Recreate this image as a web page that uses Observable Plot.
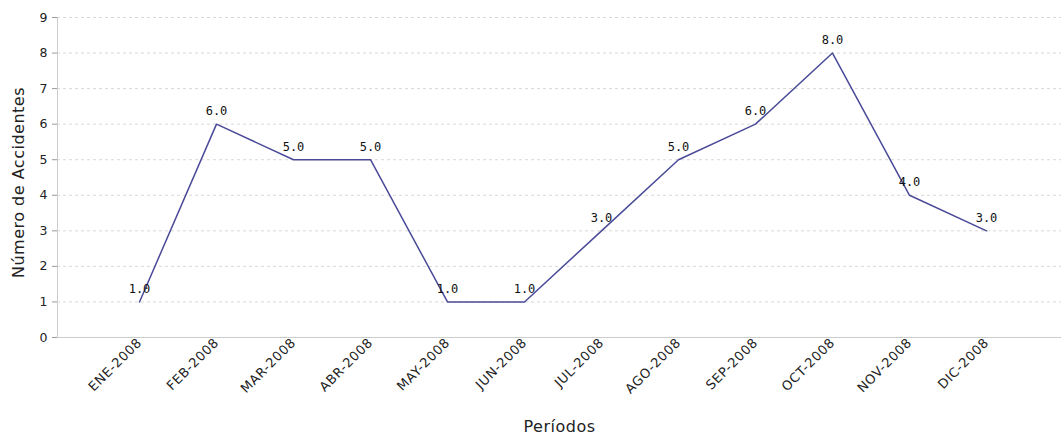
<!DOCTYPE html>
<html>
<head>
<meta charset="utf-8">
<script src="https://cdn.jsdelivr.net/npm/d3@7"></script>
<script src="https://cdn.jsdelivr.net/npm/@observablehq/plot@0.6"></script>
<style>
  html, body { margin: 0; padding: 0; background: #fff; }
  #chart svg { display: block; }
  #chart g[aria-label="x-axis tick label"] text { letter-spacing: 0.6px; }
  #chart .axis-title text { letter-spacing: 0.5px; }
</style>
</head>
<body>
<div id="chart"></div>
<script>
const periodos = ["ENE-2008","FEB-2008","MAR-2008","ABR-2008","MAY-2008","JUN-2008","JUL-2008","AGO-2008","SEP-2008","OCT-2008","NOV-2008","DIC-2008"];
const accidentes = [1, 6, 5, 5, 1, 1, 3, 5, 6, 8, 4, 3];
const yTicks = [0,1,2,3,4,5,6,7,8,9];

const data = periodos.map((p, i) => ({periodo: p, valor: accidentes[i]}));

const chart = Plot.plot({
  width: 1061,
  height: 436,
  marginLeft: 57,
  marginRight: 0,
  marginTop: 17,
  marginBottom: 99,
  style: {fontFamily: "DejaVu Sans, sans-serif", fontSize: "11px", color: "#222", background: "#fff"},
  x: {type: "point", domain: periodos, range: [134, 990], padding: 0, label: null},
  y: {domain: [0, 9], label: null},
  marks: [
    Plot.ruleY(yTicks.filter(d => d > 0), {stroke: "#d8d8d8", strokeDasharray: "3,3", strokeWidth: 1}),
    Plot.ruleY([0], {stroke: "#cccccc", strokeWidth: 1}),
    Plot.axisY({ticks: yTicks, tickSize: 5, tickPadding: 5, stroke: "#999", fontSize: 12.5, label: null}),
    Plot.axisX({tickRotate: -45, tickSize: 0, tickPadding: 3, fontSize: 13, label: null}),
    Plot.text(["Número de Accidentes"], {frameAnchor: "left", textAnchor: "middle", dx: -39, dy: 5, rotate: -90, fontSize: 16, fill: "#222", className: "axis-title"}),
    Plot.text(["Períodos"], {frameAnchor: "bottom", textAnchor: "middle", dy: 94, fontSize: 16, fill: "#222", className: "axis-title"}),
    Plot.line(data, {x: "periodo", y: "valor", stroke: "#4a4a98", strokeWidth: 1.5}),
    Plot.text(data, {x: "periodo", y: "valor", text: d => d.valor.toFixed(1), lineAnchor: "bottom", dy: -9, fontSize: 12, fontFamily: "DejaVu Sans Mono, monospace", fill: "#111"})
  ]
});

const svg = d3.select(chart);
svg.append("line")
  .attr("x1", 57.5).attr("x2", 57.5).attr("y1", 17).attr("y2", 337)
  .attr("stroke", "#cccccc");

document.getElementById("chart").appendChild(chart);
</script>
</body>
</html>
